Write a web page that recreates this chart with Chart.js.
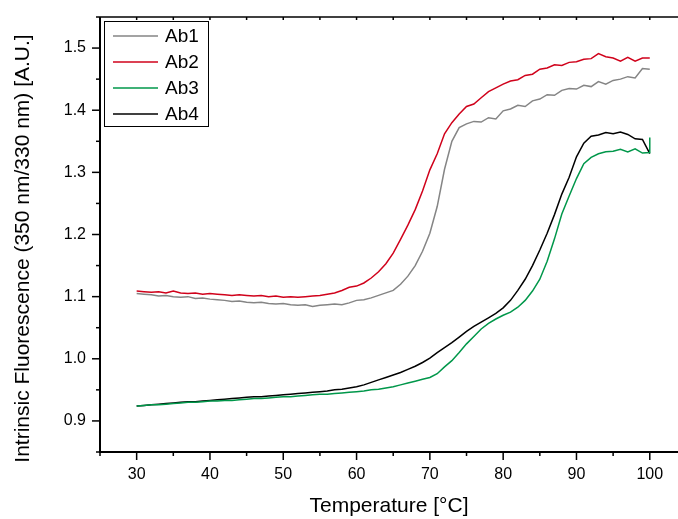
<!DOCTYPE html>
<html>
<head>
<meta charset="utf-8">
<script src="https://cdn.jsdelivr.net/npm/chart.js@4.4.1/dist/chart.umd.min.js"></script>
<style>
    html, body { margin: 0; padding: 0; background: #fff; }
    canvas { display: block; }
</style>
</head>
<body>
<canvas id="melt-chart" width="678" height="519"></canvas>
<script>
// Temperatures [°C] the curves were read at
const temps = [
    30, 31, 32, 33, 34, 35, 36, 37, 38, 39,
    40, 41, 42, 43, 44, 45, 46, 47, 48, 49,
    50, 51, 52, 53, 54, 55, 56, 57, 58, 59,
    60, 61, 62, 63, 64, 65, 66, 67, 68, 69,
    70, 71, 72, 73, 74, 75, 76, 77, 78, 79,
    80, 81, 82, 83, 84, 85, 86, 87, 88, 89,
    90, 91, 92, 93, 94, 95, 96, 97, 98, 99,
    100
];

// Ratio 350 nm / 330 nm, one value per temperature
const ab1 = [
    1.105, 1.104, 1.103, 1.101, 1.102, 1.100, 1.099, 1.100, 1.097, 1.098,
    1.096, 1.095, 1.094, 1.092, 1.093, 1.091, 1.090, 1.091, 1.089, 1.088,
    1.089, 1.087, 1.086, 1.087, 1.084, 1.086, 1.087, 1.088, 1.087, 1.090,
    1.094, 1.095, 1.098, 1.102, 1.106, 1.110, 1.120, 1.133, 1.150, 1.173,
    1.202, 1.245, 1.305, 1.350, 1.372, 1.378, 1.382, 1.381, 1.388, 1.386,
    1.399, 1.402, 1.408, 1.406, 1.415, 1.418, 1.425, 1.424, 1.432, 1.435,
    1.434, 1.440, 1.438, 1.446, 1.442, 1.448, 1.450, 1.454, 1.452, 1.467,
    1.466
];
const ab2 = [
    1.109, 1.108, 1.107, 1.108, 1.106, 1.109, 1.106, 1.105, 1.106, 1.104,
    1.105, 1.104, 1.103, 1.102, 1.103, 1.102, 1.101, 1.102, 1.100, 1.101,
    1.099, 1.100, 1.099, 1.100, 1.101, 1.102, 1.104, 1.106, 1.110, 1.115,
    1.117, 1.122, 1.130, 1.140, 1.153, 1.170, 1.192, 1.215, 1.240, 1.270,
    1.304, 1.330, 1.362, 1.380, 1.394, 1.406, 1.410, 1.420, 1.430, 1.436,
    1.442, 1.447, 1.449, 1.456, 1.458, 1.466, 1.468, 1.473, 1.472, 1.477,
    1.478, 1.482, 1.483, 1.491, 1.486, 1.484, 1.479, 1.485, 1.479, 1.484,
    1.484
];
const ab3 = [
    0.924, 0.925, 0.926, 0.926, 0.927, 0.928, 0.929, 0.930, 0.930, 0.931,
    0.932, 0.932, 0.933, 0.933, 0.934, 0.935, 0.936, 0.936, 0.937, 0.938,
    0.939, 0.939, 0.940, 0.941, 0.942, 0.943, 0.943, 0.944, 0.945, 0.946,
    0.947, 0.948, 0.950, 0.951, 0.953, 0.955, 0.958, 0.961, 0.964, 0.967,
    0.970, 0.976, 0.987, 0.997, 1.010, 1.024, 1.036, 1.048, 1.057, 1.064,
    1.070, 1.075, 1.083, 1.094, 1.109, 1.128, 1.157, 1.193, 1.233, 1.262,
    1.290, 1.314, 1.324, 1.330, 1.333, 1.334, 1.337, 1.333, 1.338, 1.331,
    1.332
];
// last reading of Ab3 jumps up at 100 °C
const ab3EndSpike = 1.356;
const ab4 = [
    0.924, 0.925, 0.926, 0.927, 0.928, 0.929, 0.930, 0.931, 0.931, 0.932,
    0.933, 0.934, 0.935, 0.936, 0.937, 0.938, 0.939, 0.939, 0.940, 0.941,
    0.942, 0.943, 0.944, 0.945, 0.946, 0.947, 0.948, 0.950, 0.951, 0.953,
    0.955, 0.958, 0.962, 0.966, 0.970, 0.974, 0.978, 0.983, 0.988, 0.994,
    1.001, 1.010, 1.018, 1.026, 1.035, 1.044, 1.052, 1.059, 1.066, 1.073,
    1.082, 1.094, 1.110, 1.128, 1.150, 1.175, 1.202, 1.232, 1.265, 1.292,
    1.325, 1.347, 1.358, 1.360, 1.364, 1.362, 1.365, 1.361, 1.354, 1.353,
    1.330
];

const seriesLabels = ['Ab1', 'Ab2', 'Ab3', 'Ab4'];
const seriesColors = ['#858585', '#d0021b', '#00974a', '#000000'];
const yTitle = 'Intrinsic Fluorescence (350 nm/330 nm) [A.U.]';

const fontFamily = "'Liberation Sans', Arial, sans-serif";

function toPoints(values) {
    return values.map((v, i) => ({ x: temps[i], y: v }));
}

function isMajor(value, step) {
    const n = value / step;
    return Math.abs(n - Math.round(n)) < 1e-6;
}

// Axis lines, outward ticks, the mirrored top frame and the y title
const framePlugin = {
    id: 'frame',
    afterDraw(chart) {
        const { ctx, chartArea: area, scales: { x, y } } = chart;
        ctx.save();
        ctx.strokeStyle = '#000';
        ctx.lineCap = 'butt';

        ctx.lineWidth = 1.5;
        x.ticks.forEach(t => {
            const px = x.getPixelForValue(t.value);
            const len = isMajor(t.value, 10) ? 8 : 4;
            ctx.beginPath();
            ctx.moveTo(px, area.bottom);
            ctx.lineTo(px, area.bottom + len);
            ctx.moveTo(px, area.top);
            ctx.lineTo(px, area.top + 3);
            ctx.stroke();
        });
        y.ticks.forEach(t => {
            const py = y.getPixelForValue(t.value);
            const len = isMajor(t.value, 0.1) ? 8 : 4;
            ctx.beginPath();
            ctx.moveTo(area.left, py);
            ctx.lineTo(area.left - len, py);
            ctx.stroke();
        });

        ctx.lineWidth = 2;
        ctx.beginPath();
        ctx.moveTo(area.left, area.top);
        ctx.lineTo(area.left, area.bottom);
        ctx.lineTo(area.right, area.bottom);
        ctx.stroke();

        ctx.lineWidth = 1.5;
        ctx.beginPath();
        ctx.moveTo(area.left, area.top);
        ctx.lineTo(area.right, area.top);
        ctx.stroke();

        // y title sits a bit below the middle of the plot in the original
        ctx.translate(23, area.top + (area.bottom - area.top) / 2 + 14);
        ctx.rotate(-Math.PI / 2);
        ctx.font = '21px ' + fontFamily;
        ctx.fillStyle = '#000';
        ctx.textAlign = 'center';
        ctx.textBaseline = 'middle';
        ctx.fillText(yTitle, 0, 0);
        ctx.restore();
    }
};

// Boxed legend in the top left corner of the plot
const boxLegendPlugin = {
    id: 'boxLegend',
    afterDraw(chart) {
        const { ctx, chartArea: area } = chart;
        const left = area.left + 4;
        const top = area.top + 4;
        const rowHeight = 26;
        const rows = chart.data.datasets.filter(d => d.label);

        ctx.save();
        ctx.fillStyle = '#fff';
        ctx.strokeStyle = '#000';
        ctx.lineWidth = 1;
        ctx.fillRect(left, top, 104, rowHeight * rows.length + 1);
        ctx.strokeRect(left + 0.5, top + 0.5, 104, rowHeight * rows.length + 1);

        ctx.font = '19px ' + fontFamily;
        ctx.textBaseline = 'middle';
        rows.forEach((d, i) => {
            const cy = top + 15 + i * rowHeight;
            ctx.strokeStyle = d.borderColor;
            ctx.lineWidth = 1.5;
            ctx.beginPath();
            ctx.moveTo(left + 9, cy);
            ctx.lineTo(left + 54, cy);
            ctx.stroke();
            ctx.fillStyle = '#000';
            ctx.fillText(d.label, left + 61, cy + 1);
        });
        ctx.restore();
    }
};

const seriesValues = [ab1, ab2, ab3, ab4];
const datasets = seriesValues.map((values, idx) => ({
    label: seriesLabels[idx],
    data: toPoints(values),
    borderColor: seriesColors[idx],
    borderWidth: 1.5,
    pointRadius: 0,
    tension: 0,
    fill: false
}));
datasets[2].data.push({ x: 100, y: ab3EndSpike });

new Chart(document.getElementById('melt-chart').getContext('2d'), {
    type: 'line',
    data: { datasets: datasets },
    plugins: [framePlugin, boxLegendPlugin],
    options: {
        responsive: false,
        animation: false,
        layout: { padding: { top: 17, right: 0, bottom: 0, left: 0 } },
        plugins: {
            legend: { display: false },
            tooltip: { enabled: false }
        },
        scales: {
            x: {
                type: 'linear',
                min: 25,
                max: 103.85,
                afterFit(scale) {
                    scale.height = 67;
                    scale.paddingLeft = 0;
                    scale.paddingRight = 0;
                },
                grid: { display: false, drawTicks: false },
                border: { display: false },
                ticks: {
                    stepSize: 5,
                    includeBounds: false,
                    autoSkip: false,
                    maxRotation: 0,
                    padding: 13,
                    color: '#000',
                    font: { family: fontFamily, size: 16 },
                    callback: v => (isMajor(v, 10) && v >= 30) ? String(v) : ''
                },
                title: {
                    display: true,
                    text: 'Temperature [°C]',
                    color: '#000',
                    font: { family: fontFamily, size: 21 },
                    padding: { top: 0, bottom: 0 }
                }
            },
            y: {
                type: 'linear',
                min: 0.85,
                max: 1.55,
                afterFit(scale) {
                    scale.width = 100;
                    scale.paddingTop = 0;
                    scale.paddingBottom = 0;
                },
                grid: { display: false, drawTicks: false },
                border: { display: false },
                ticks: {
                    stepSize: 0.05,
                    includeBounds: false,
                    autoSkip: false,
                    padding: 14,
                    color: '#000',
                    font: { family: fontFamily, size: 16 },
                    callback: v => (isMajor(v, 0.1) && v > 0.86 && v < 1.54) ? v.toFixed(1) : ''
                }
            }
        }
    }
});
</script>
</body>
</html>
